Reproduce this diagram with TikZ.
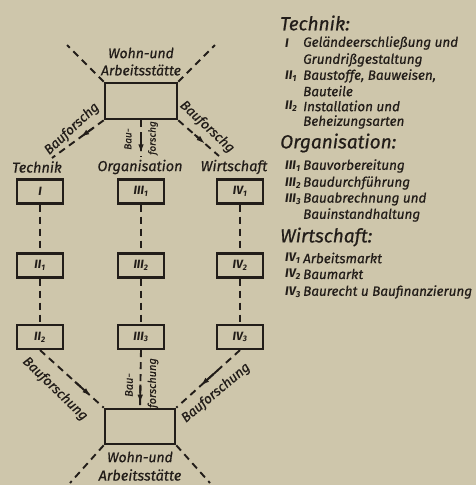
\documentclass[tikz,border=0pt]{standalone}
\usepackage{fontspec}
\setmainfont{Fira Sans}[ItalicFeatures={FakeBold=0.6}]
\usetikzlibrary{calc,arrows.meta}
\definecolor{paper}{RGB}{206,198,171}
\definecolor{ink}{RGB}{34,29,25}
\begin{document}
\begin{tikzpicture}[x=1pt,y=-1pt,
  boxc/.style={draw=ink, line width=2.2pt, minimum width=46pt, minimum height=24pt, inner sep=0pt, text=ink, font=\itshape\bfseries\fontsize{12}{12}\selectfont},
  bigbox/.style={draw=ink, line width=2.6pt, inner sep=0pt},
  lbl/.style={text=ink, inner sep=0pt, font=\itshape\fontsize{13.5}{14}\selectfont},
  vlbl/.style={text=ink, inner sep=0pt, rotate=90, font=\itshape\fontsize{11}{12}\selectfont},
  conn/.style={draw=ink, line width=1.9pt, dash pattern=on 7pt off 5pt},
  tipc/.style={draw=ink, line width=1.9pt, -{Latex[length=9pt,width=5.5pt]}},
  head/.style={text=ink, anchor=west, inner sep=0pt, font=\itshape\fontsize{19}{19}\selectfont},
  item/.style={text=ink, anchor=west, inner sep=0pt, font=\itshape\fontsize{13.5}{14}\selectfont},
  num/.style={text=ink, anchor=west, inner sep=0pt, font=\itshape\bfseries\fontsize{12.5}{13}\selectfont}]
\fill[paper] (0,0) rectangle (476,485);
\useasboundingbox (0,0) rectangle (476,485);

% main boxes
\node[bigbox, minimum width=72pt, minimum height=36pt] (top) at (141,101) {};
\node[bigbox, minimum width=70pt, minimum height=35pt] (bot) at (140,426.5) {};

\node[lbl, font=\itshape\fontsize{14}{14}\selectfont] (topA) at (141,53) {Wohn-und};
\node[lbl, font=\itshape\fontsize{14}{14}\selectfont] (topB) at (141,70) {Arbeitsstätte};
\node[lbl, font=\itshape\fontsize{14}{14}\selectfont] (botA) at (140,457) {Wohn-und};
\node[lbl, font=\itshape\fontsize{14.5}{14}\selectfont] (botB) at (140,475) {Arbeitsstätte};

% outward dashed lines
\coordinate (otl) at (67,45);
\coordinate (otr) at (215,45);
\coordinate (obl) at (70,483);
\coordinate (obr) at (210,483);
\draw[conn] (top.north west) -- (otl);
\draw[conn] (top.north east) -- (otr);
\draw[conn] (bot.south west) -- (obl);
\draw[conn] (bot.south east) -- (obr);

% column labels
\node[lbl, font=\itshape\fontsize{14.5}{15}\selectfont] (tech) at (37,167) {Technik};
\node[lbl, font=\itshape\fontsize{14.5}{15}\selectfont] (org) at (140,167) {Organisation};
\node[lbl, font=\itshape\fontsize{14.5}{15}\selectfont] (wirt) at (234,167) {Wirtschaft};

% small boxes
\node[boxc] (b1) at (40,191.5) {I};
\node[boxc] (b2) at (40,265.5) {II\textsubscript{1}};
\node[boxc] (b3) at (40,337) {II\textsubscript{2}};
\node[boxc] (b4) at (141,191.5) {III\textsubscript{1}};
\node[boxc] (b5) at (141,265.5) {III\textsubscript{2}};
\node[boxc] (b6) at (141,337) {III\textsubscript{3}};
\node[boxc] (b7) at (240,191.5) {IV\textsubscript{1}};
\node[boxc] (b8) at (240,265.5) {IV\textsubscript{2}};
\node[boxc] (b9) at (240,337) {IV\textsubscript{3}};

\draw[conn] (b1.south) -- (b2.north);
\draw[conn] (b2.south) -- (b3.north);
\draw[conn] (b4.south) -- (b5.north);
\draw[conn] (b5.south) -- (b6.north);
\draw[conn] (b7.south) -- (b8.north);
\draw[conn] (b8.south) -- (b9.north);

% top connectors
\coordinate (ctl) at (52,158);
\coordinate (ctm) at (141,157);
\coordinate (ctr) at (219,156);
\draw[conn] (top.south west) -- (ctl);
\draw[tipc] ($(top.south west)!0.2!(ctl)$) -- ($(top.south west)!0.45!(ctl)$);
\draw[conn] (top.south) -- (ctm);
\draw[tipc] ($(top.south)!0.45!(ctm)$) -- ($(top.south)!0.9!(ctm)$);
\draw[conn] (top.south east) -- (ctr);
\draw[tipc] ($(top.south east)!0.4!(ctr)$) -- ($(top.south east)!0.66!(ctr)$);

\node[lbl, rotate=43] (ltl) at (72,129) {Bauforschg};
\node[lbl, rotate=-43] (ltr) at (207,127) {Bauforschg};
\node[vlbl, font=\itshape\fontsize{10}{11}\selectfont] (ltm1) at (128,139) {Bau-};
\node[vlbl, font=\itshape\fontsize{10}{11}\selectfont] (ltm2) at (153,138) {forschg};

% bottom connectors
\draw[conn] (b3.south) -- (bot.north west);
\draw[tipc] ($(b3.south)!0.55!(bot.north west)$) -- ($(b3.south)!0.8!(bot.north west)$);
\draw[conn] (b6.south) -- (bot.north);
\draw[tipc] ($(b6.south)!0.6!(bot.north)$) -- ($(b6.south)!0.93!(bot.north)$);
\draw[conn] (b9.south) -- (bot.north east);
\draw[tipc] ($(b9.south)!0.35!(bot.north east)$) -- ($(b9.south)!0.62!(bot.north east)$);

\node[lbl, rotate=-44] (lbl1) at (55,389) {Bauforschung};
\node[vlbl] (lbm1) at (129,385) {Bau-};
\node[vlbl] (lbm2) at (153,383) {forschung};
\node[lbl, rotate=40] (lbr1) at (216,393) {Bauforschung};

% legend
\node[head] (hT) at (280,23) {Technik:};
\node[num] (n1) at (285,43) {I};
\node[item] (t1) at (303,43) {Geländeerschließung und};
\node[item] (t1b) at (303,60) {Grundrißgestaltung};
\node[num] (n2) at (285,76) {II\textsubscript{1}};
\node[item] (t2) at (303,76) {Baustoffe, Bauweisen,};
\node[item] (t2b) at (303,91) {Bauteile};
\node[num] (n3) at (285,106) {II\textsubscript{2}};
\node[item] (t3) at (303,106) {Installation und};
\node[item] (t3b) at (303,122) {Beheizungsarten};

\node[head] (hO) at (280,143) {Organisation:};
\node[num] (n4) at (285,166) {III\textsubscript{1}};
\node[item] (t4) at (303,166) {Bauvorbereitung};
\node[num] (n5) at (285,183) {III\textsubscript{2}};
\node[item] (t5) at (303,183) {Baudurchführung};
\node[num] (n6) at (285,199) {III\textsubscript{3}};
\node[item] (t6) at (303,199) {Bauabrechnung und};
\node[item] (t6b) at (303,215) {Bauinstandhaltung};

\node[head] (hW) at (280,237) {Wirtschaft:};
\node[num] (n7) at (285,258) {IV\textsubscript{1}};
\node[item] (t7) at (303,258) {Arbeitsmarkt};
\node[num] (n8) at (285,274) {IV\textsubscript{2}};
\node[item] (t8) at (303,274) {Baumarkt};
\node[num] (n9) at (285,292) {IV\textsubscript{3}};
\node[item] (t9) at (303,292) {Baurecht u Baufinanzierung};
\end{tikzpicture}
\end{document}
